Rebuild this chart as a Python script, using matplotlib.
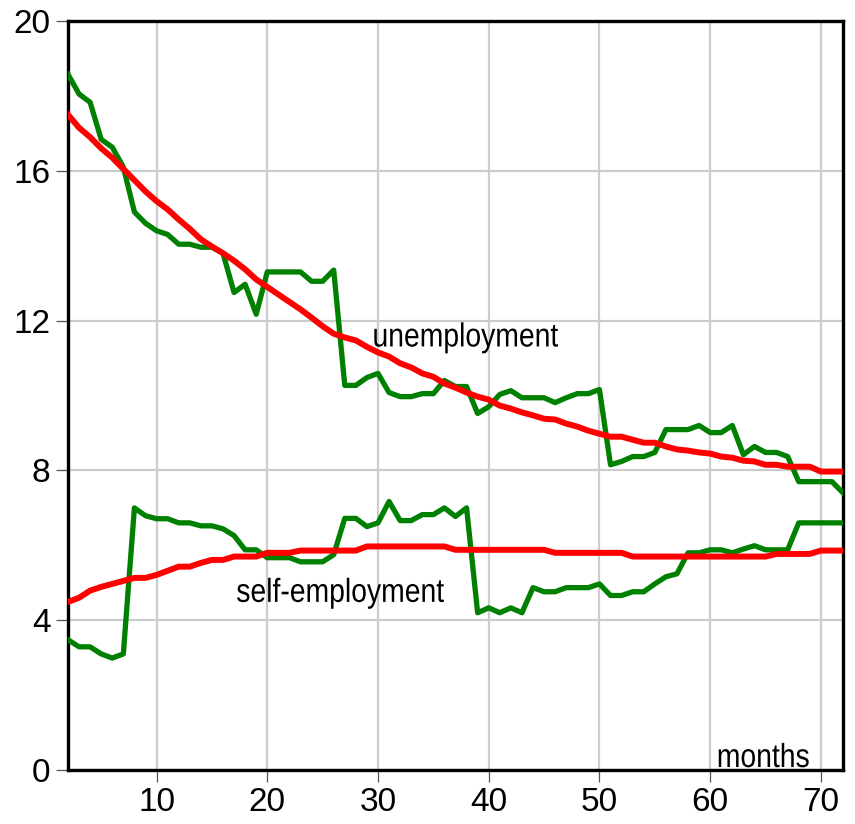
import matplotlib
matplotlib.use('Agg')
import matplotlib.pyplot as plt
from matplotlib.textpath import TextPath
from matplotlib.patches import PathPatch
from matplotlib.font_manager import FontProperties
from matplotlib.transforms import Affine2D, ScaledTranslation

plt.rcParams['font.family'] = ['Liberation Sans', 'DejaVu Sans']

months = list(range(2, 73))

unemp = [18.58, 18.05, 17.83, 16.84, 16.63, 16.1, 14.9, 14.6, 14.4, 14.3,
         14.04, 14.04, 13.96, 13.96, 13.8, 12.75, 12.97, 12.17, 13.3, 13.3,
         13.3, 13.3, 13.05, 13.05, 13.35, 10.27, 10.27, 10.48, 10.59, 10.08,
         9.97, 9.97, 10.05, 10.05, 10.4, 10.24, 10.24, 9.52, 9.7, 10.03,
         10.13, 9.94, 9.94, 9.94, 9.81, 9.94, 10.05, 10.05, 10.16, 8.15,
         8.24, 8.37, 8.37, 8.48, 9.09, 9.09, 9.09, 9.2, 9.01, 9.01,
         9.2, 8.42, 8.64, 8.48, 8.48, 8.37, 7.7, 7.7, 7.7, 7.7,
         7.4]

unemp_trend = [17.5, 17.15, 16.9, 16.6, 16.35, 16.05, 15.75, 15.45, 15.19, 14.97,
               14.7, 14.45, 14.17, 13.98, 13.8, 13.6, 13.37, 13.1, 12.9, 12.7,
               12.5, 12.3, 12.08, 11.85, 11.65, 11.55, 11.47, 11.3, 11.15, 11.04,
               10.86, 10.75, 10.59, 10.5, 10.32, 10.21, 10.08, 9.97, 9.89, 9.73,
               9.65, 9.55, 9.47, 9.38, 9.36, 9.25, 9.17, 9.06, 8.98, 8.9,
               8.9, 8.82, 8.74, 8.74, 8.64, 8.56, 8.53, 8.48, 8.45, 8.37,
               8.34, 8.26, 8.24, 8.15, 8.15, 8.1, 8.1, 8.1, 7.97, 7.97,
               7.97]

selfemp = [3.48, 3.29, 3.29, 3.1, 2.99, 3.1, 7.0, 6.79, 6.71, 6.71,
           6.6, 6.6, 6.52, 6.52, 6.44, 6.26, 5.88, 5.88, 5.67, 5.67,
           5.67, 5.56, 5.56, 5.56, 5.75, 6.72, 6.72, 6.5, 6.6, 7.17,
           6.66, 6.66, 6.82, 6.82, 7.0, 6.77, 7.0, 4.2, 4.33, 4.2,
           4.33, 4.2, 4.87, 4.76, 4.76, 4.87, 4.87, 4.87, 4.97, 4.66,
           4.66, 4.76, 4.76, 4.97, 5.16, 5.24, 5.8, 5.8, 5.88, 5.88,
           5.8, 5.9, 5.99, 5.88, 5.88, 5.88, 6.6, 6.6, 6.6, 6.6,
           6.6]

selfemp_trend = [4.49, 4.6, 4.79, 4.89, 4.97, 5.05, 5.13, 5.13, 5.21, 5.32,
                 5.43, 5.43, 5.53, 5.61, 5.61, 5.7, 5.7, 5.7, 5.8, 5.8,
                 5.8, 5.86, 5.86, 5.86, 5.86, 5.86, 5.86, 5.97, 5.97, 5.97,
                 5.97, 5.97, 5.97, 5.97, 5.97, 5.88, 5.88, 5.88, 5.88, 5.88,
                 5.88, 5.88, 5.88, 5.88, 5.8, 5.8, 5.8, 5.8, 5.8, 5.8,
                 5.8, 5.7, 5.7, 5.7, 5.7, 5.7, 5.7, 5.7, 5.7, 5.7,
                 5.7, 5.7, 5.7, 5.7, 5.77, 5.77, 5.77, 5.77, 5.86, 5.86,
                 5.86]

fig = plt.figure(figsize=(8.55, 8.24), dpi=100)
ax = fig.add_axes([0.0795, 0.0655, 0.9065, 0.909])

ax.plot(months, unemp, color='#008000', lw=3.8, zorder=3)
ax.plot(months, selfemp, color='#008000', lw=3.8, zorder=3)
ax.plot(months, unemp_trend, color='#ff0000', lw=4.3, zorder=4)
ax.plot(months, selfemp_trend, color='#ff0000', lw=4.3, zorder=4)

ax.set_xlim(2, 72)
ax.set_ylim(0, 20)
ax.set_xticks([10, 20, 30, 40, 50, 60, 70])
ax.set_yticks([0, 4, 8, 12, 16, 20])
ax.grid(True, color='#cccccc', lw=1.6)
ax.set_axisbelow(True)

for s in ax.spines.values():
    s.set_color('black')
    s.set_linewidth(2.4)

ax.tick_params(axis='both', direction='out', length=8.5, width=0.9,
               color='#555555', labelsize=24, pad=4)


# condensed (narrow) label: text path squeezed horizontally
def narrow_text(x, y, s, size=24, squeeze=0.85):
    tp = TextPath((0, 0), s, size=size, prop=FontProperties(family='Liberation Sans'))
    k = fig.dpi / 72.0
    tr = Affine2D().scale(squeeze * k, k) + ScaledTranslation(x, y, ax.transData)
    ax.add_patch(PathPatch(tp, transform=tr, color='black', lw=0, zorder=5))


narrow_text(29.5, 11.31, 'unemployment')
narrow_text(17.2, 4.49, 'self-employment')
narrow_text(60.6, 0.08, 'months')

fig.savefig('out.png', dpi=100)
